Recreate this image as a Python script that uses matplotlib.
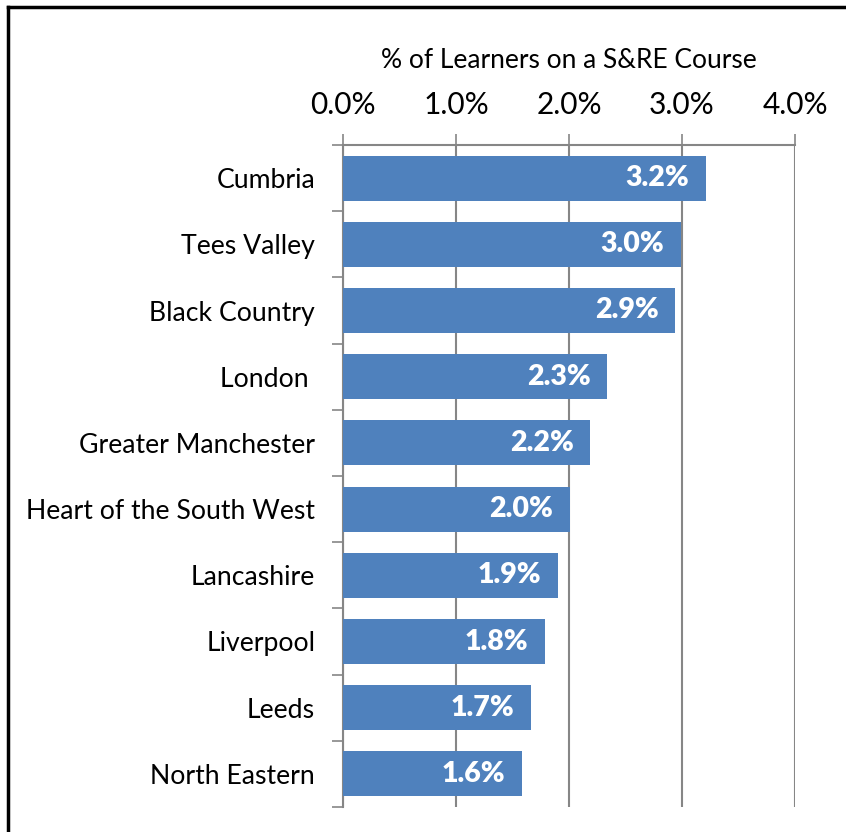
import numpy as np
from matplotlib import pyplot as plt
from matplotlib.lines import Line2D

# regions and share of learners on a S&RE course (%)
regions = ['Cumbria', 'Tees Valley', 'Black Country', 'London ', 'Greater Manchester',
           'Heart of the South West', 'Lancashire', 'Liverpool', 'Leeds', 'North Eastern']
pct = [3.21, 2.99, 2.94, 2.34, 2.19, 2.01, 1.90, 1.79, 1.66, 1.58]
xticks = [0, 1, 2, 3, 4]

plt.rcParams['font.family'] = ['Lato', 'DejaVu Sans']
grey = '#868686'

fig = plt.figure(figsize=(8.46, 8.32), dpi=100)
ax = fig.add_axes([343/846, 1 - 807/832, (795-343)/846, (807-145)/832])

y = np.arange(len(regions))
ax.barh(y, pct, height=0.68, color='#4F81BD', zorder=3)
for yi, v in zip(y, pct):
    ax.annotate(f'{v:.1f}%', (v, yi), xytext=(-12, 0), textcoords='offset points',
                ha='right', va='center', color='white', fontsize=20.5, fontweight='heavy',
                zorder=4)

ax.set_xlim(0, 4)
ax.set_ylim(len(regions) - 0.5, -0.5)
ax.xaxis.tick_top()
ax.xaxis.set_label_position('top')
ax.set_xticks(xticks)
ax.set_xticklabels([f'{t:.1f}%' for t in xticks], fontsize=21.5)
ax.set_xlabel('% of Learners on a S&RE Course', fontsize=19, labelpad=16)
ax.tick_params(axis='x', length=8, width=1.2, color=grey, pad=11)
ax.grid(axis='x', color=grey, linewidth=1.5, zorder=0)

ax.set_yticks(y)
ax.set_yticklabels(regions, fontsize=19.2)
ax.set_yticks(np.arange(len(regions) + 1) - 0.5, minor=True)
ax.tick_params(axis='y', which='major', length=0, pad=20)
ax.tick_params(axis='y', which='minor', length=8, width=1.2, color=grey)

for s in ['right', 'bottom']:
    ax.spines[s].set_visible(False)
for s in ['left', 'top']:
    ax.spines[s].set_color(grey)
    ax.spines[s].set_linewidth(1.5)

# chart border (only top and left edges fall inside the picture)
fig.add_artist(Line2D([8/846, 8/846], [0, 1 - 7/832], color='black', linewidth=2.5))
fig.add_artist(Line2D([8/846, 1], [1 - 7/832, 1 - 7/832], color='black', linewidth=2.5))

fig.savefig('out.png', dpi=100)
